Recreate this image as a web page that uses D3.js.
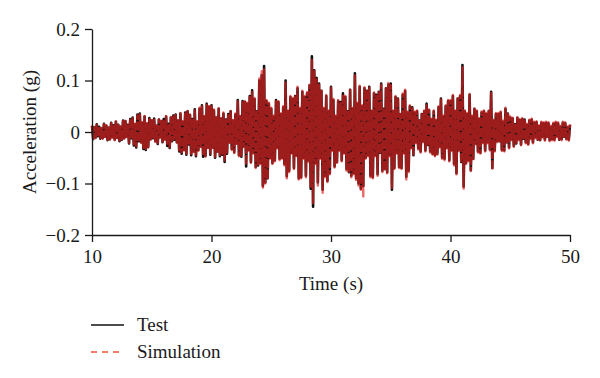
<!DOCTYPE html>
<html>
<head>
<meta charset="utf-8">
<script src="https://cdn.jsdelivr.net/npm/d3@7"></script>
<style>
  body { margin: 0; background: #fff; }
  text { font-family: "Liberation Serif", "Times New Roman", serif; fill: #1a1a1a; }
</style>
</head>
<body>
<div id="chart"></div>
<script>
// sampled every 0.1 s starting at 10 s, values in milli-g (one row = one second)
var startTime = 10, timeStep = 0.1;

var testAccel = [
  12,-14,9,-11,15,-8,10,-13,7,-12,
  16,-9,12,-16,8,-14,18,-10,13,-15,
  20,-11,14,-18,10,-15,22,-12,21,-9,
  14,-22,25,-12,28,-26,15,-30,34,-18,
  36,-20,18,-33,30,-35,16,-29,27,-14,
  22,-12,26,-18,12,-23,24,-10,21,-20,
  25,-14,30,-27,16,-31,28,-18,32,-15,
  34,-20,22,-38,36,-42,20,-35,38,-44,
  40,-24,33,-45,25,-38,44,-47,20,-35,
  45,-28,52,-48,30,-46,55,-30,49,-44,
  52,-30,42,-50,28,-38,45,-47,26,-44,
  36,-58,24,-42,35,-20,40,-33,22,-39,
  34,-22,62,-45,30,-48,60,-28,58,-67,
  55,-35,70,-58,81,-40,64,-68,40,-65,
  100,-60,110,-105,128,-98,60,-90,55,-50,
  45,-60,30,-55,62,-30,58,-52,35,-50,
  48,-62,100,-86,40,-75,68,-40,64,-70,
  70,-45,85,-90,45,-88,78,-50,68,-85,
  75,-55,90,-110,147,-145,120,-60,105,-98,
  94,-50,80,-112,45,-85,70,-95,40,-80,
  88,-35,62,-67,30,-58,60,-35,58,-55,
  75,-40,68,-72,40,-78,82,-85,45,-80,
  114,-90,55,-100,88,-110,50,-105,85,-50,
  80,-45,88,-85,40,-88,75,-45,72,-82,
  78,-40,94,-75,45,-72,85,-78,92,-45,
  94,-112,40,-70,68,-40,65,-68,35,-70,
  72,-40,80,-87,38,-75,50,-30,48,-45,
  38,-20,40,-32,22,-38,35,-18,40,-36,
  55,-25,42,-38,24,-42,40,-45,22,-42,
  48,-28,65,-50,30,-52,50,-30,60,-55,
  60,-35,70,-62,40,-80,65,-35,70,-58,
  130,-106,40,-60,35,-55,72,-74,30,-52,
  45,-22,40,-38,25,-40,38,-20,40,-36,
  35,-20,40,-34,78,-70,22,-36,35,-18,
  35,-18,38,-35,20,-36,45,-20,36,-30,
  28,-14,26,-27,15,-22,27,-14,23,-24,
  25,-13,24,-20,14,-23,22,-12,24,-20,
  18,-10,19,-15,11,-16,18,-9,17,-15,
  18,-9,17,-16,10,-14,16,-15,18,-8,
  17,-15,10,-14,18,-9,17,-13,9,-15,
  14
];

var simAccel = [
  13,-13,10,-12,14,-9,11,-12,8,-13,
  15,-10,13,-15,9,-15,17,-11,12,-16,
  21,-12,13,-17,11,-16,21,-13,22,-10,
  15,-21,26,-13,27,-24,16,-28,32,-19,
  34,-21,19,-31,31,-33,17,-30,25,-15,
  23,-13,24,-19,13,-22,25,-11,22,-19,
  24,-15,31,-25,17,-30,29,-17,30,-16,
  33,-21,23,-36,37,-40,21,-36,36,-42,
  41,-25,34,-43,26,-39,42,-45,21,-37,
  47,-29,50,-46,31,-48,53,-31,50,-42,
  50,-31,44,-48,29,-40,46,-45,27,-42,
  38,-55,25,-40,36,-21,41,-35,23,-41,
  36,-23,60,-47,31,-46,58,-29,60,-64,
  57,-36,68,-60,78,-42,66,-70,42,-63,
  104,-62,118,-108,122,-100,62,-92,57,-52,
  47,-62,32,-57,60,-32,60,-55,36,-52,
  50,-65,96,-90,42,-78,70,-42,66,-72,
  72,-47,88,-92,47,-90,80,-52,70,-88,
  78,-58,92,-106,140,-140,118,-62,102,-104,
  92,-52,82,-118,47,-88,72,-97,42,-82,
  86,-37,64,-69,32,-60,62,-37,56,-57,
  73,-42,70,-75,42,-80,84,-88,47,-82,
  110,-93,57,-104,90,-112,52,-125,87,-52,
  82,-47,86,-88,42,-90,77,-47,70,-85,
  80,-42,92,-78,47,-75,87,-80,95,-47,
  91,-108,42,-72,70,-42,67,-70,37,-72,
  75,-42,82,-92,40,-78,52,-32,46,-47,
  40,-22,42,-34,24,-40,37,-20,42,-38,
  52,-27,44,-40,26,-44,42,-47,24,-44,
  50,-30,63,-52,32,-55,52,-32,62,-57,
  62,-37,72,-65,42,-82,67,-37,72,-60,
  126,-110,42,-62,37,-57,74,-76,32,-55,
  47,-24,42,-40,27,-42,40,-22,42,-38,
  37,-22,42,-36,76,-74,24,-38,37,-20,
  37,-20,40,-37,22,-38,47,-22,38,-32,
  30,-16,28,-29,17,-24,29,-16,25,-26,
  27,-15,26,-22,16,-25,24,-14,26,-22,
  20,-12,21,-17,13,-18,20,-11,19,-17,
  20,-11,19,-18,12,-16,18,-17,20,-10,
  19,-17,12,-16,20,-11,19,-15,11,-17,
  15
];

var xTicks = [10, 20, 30, 40, 50];
var yTicks = [-0.2, -0.1, 0, 0.1, 0.2];
var seriesNames = ["Test", "Simulation"];

var margin = {top: 29, right: 30, bottom: 143, left: 92},
    width = 600 - margin.left - margin.right,
    height = 378 - margin.top - margin.bottom;

var svg = d3.select("#chart").append("svg")
    .attr("width", 600)
    .attr("height", 378);

var g = svg.append("g")
    .attr("transform", "translate(" + margin.left + "," + margin.top + ")");

var x = d3.scaleLinear().domain([10, 50]).range([0, width]);
var y = d3.scaleLinear().domain([-0.2, 0.2]).range([height, 0]);

var line = d3.line()
    .x(function(d, i) { return x(startTime + i * timeStep); })
    .y(function(d) { return y(d / 1000); });

// test record underneath
g.append("path")
    .datum(testAccel)
    .attr("fill", "none")
    .attr("stroke", "#111")
    .attr("stroke-width", 2.6)
    .attr("stroke-linejoin", "round")
    .attr("d", line);

// simulation, dashed red on top
g.append("path")
    .datum(simAccel)
    .attr("fill", "none")
    .attr("stroke", "#e02424")
    .attr("stroke-opacity", 0.68)
    .attr("stroke-width", 2.4)
    .attr("stroke-dasharray", "9,1.5")
    .attr("stroke-linejoin", "round")
    .attr("d", line);

var fmt = function(d) { return d === 0 ? "0" : d3.format(".1f")(d); };

var yAxis = g.append("g")
    .call(d3.axisLeft(y).tickValues(yTicks).tickFormat(fmt).tickSize(7).tickSizeOuter(0).tickPadding(5));
var xAxis = g.append("g")
    .attr("transform", "translate(0," + height + ")")
    .call(d3.axisBottom(x).tickValues(xTicks).tickSize(7).tickSizeOuter(0).tickPadding(8));

[yAxis, xAxis].forEach(function(a) {
    a.selectAll("path, line").attr("stroke", "#1a1a1a").attr("stroke-width", 1.3);
    a.selectAll("text").style("font-family", "Liberation Serif").style("font-size", "19px").attr("fill", "#1a1a1a");
});

// axis titles
svg.append("text")
    .attr("transform", "translate(36," + (margin.top + height / 2) + ") rotate(-90)")
    .attr("text-anchor", "middle")
    .style("font-size", "19px")
    .text("Acceleration (g)");

svg.append("text")
    .attr("x", margin.left + width / 2)
    .attr("y", 290)
    .attr("text-anchor", "middle")
    .style("font-size", "19px")
    .text("Time (s)");

// legend
var legend = svg.append("g").attr("transform", "translate(91,325)");
seriesNames.forEach(function(name, i) {
    var row = legend.append("g").attr("transform", "translate(0," + (i * 27) + ")");
    row.append("line")
        .attr("x1", 0).attr("x2", 33)
        .attr("stroke", i === 0 ? "#111" : "#f0523a")
        .attr("stroke-width", 1.3)
        .attr("stroke-dasharray", i === 0 ? null : "6,5");
    row.append("text")
        .attr("x", 46)
        .attr("y", 6)
        .style("font-size", "19px")
        .text(name);
});
</script>
</body>
</html>
